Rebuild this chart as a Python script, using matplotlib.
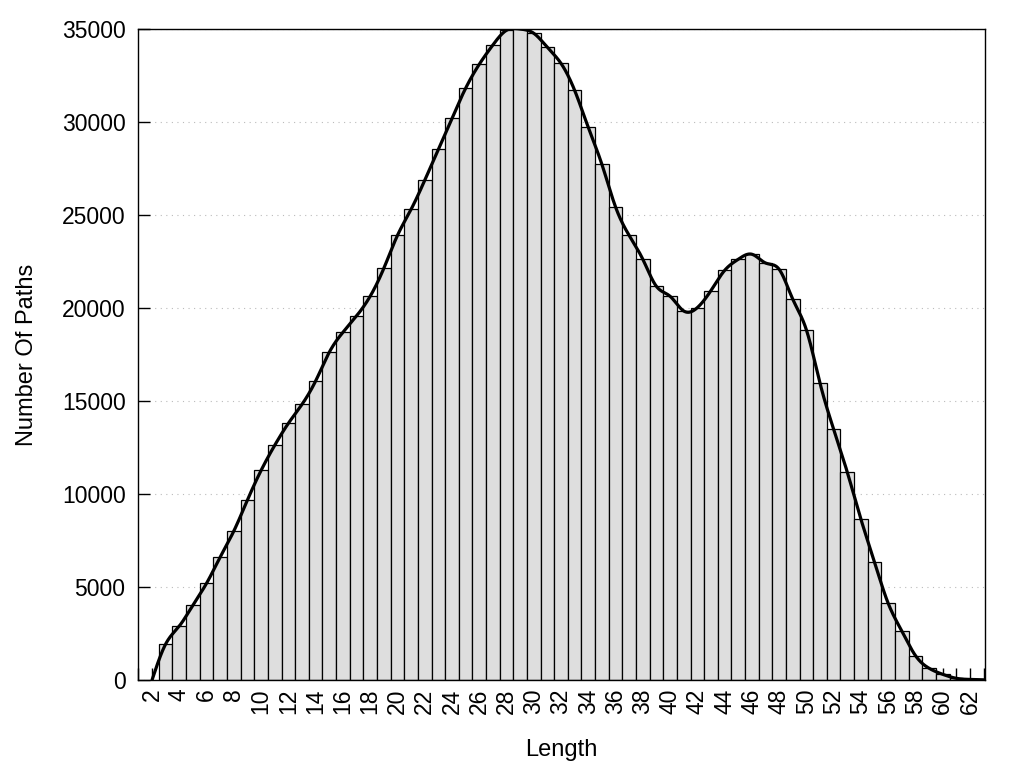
import numpy as np
import matplotlib
matplotlib.use("Agg")
import matplotlib.pyplot as plt
from matplotlib.ticker import MultipleLocator

plt.rcParams['font.family'] = ['Liberation Sans', 'DejaVu Sans']

lengths = list(range(2, 64))
counts = [0, 1935, 2900, 4030, 5200, 6610, 8010, 9680, 11270, 12620,
          13800, 14820, 16075, 17620, 18690, 19570, 20630, 22130, 23900, 25300,
          26860, 28530, 30200, 31810, 33100, 34140, 34930, 35000, 34770, 34010,
          33150, 31700, 29710, 27720, 25430, 23900, 22620, 21160, 20630, 19840,
          20020, 20940, 22020, 22620, 22890, 22420, 22080, 20470, 18820, 15950,
          13480, 11170, 8640, 6330, 4120, 2630, 1310, 630, 305, 90,
          30, 10]
xtick_labels = [str(v) for v in range(2, 63, 2)]
ytick_values = list(range(0, 35001, 5000))


def natural_cubic_spline(x, y, xs):
    x = np.asarray(x, float)
    y = np.asarray(y, float)
    n = len(x)
    h = np.diff(x)
    A = np.zeros((n, n))
    b = np.zeros(n)
    A[0, 0] = 1
    A[-1, -1] = 1
    for i in range(1, n - 1):
        A[i, i - 1] = h[i - 1]
        A[i, i] = 2 * (h[i - 1] + h[i])
        A[i, i + 1] = h[i]
        b[i] = 3 * ((y[i + 1] - y[i]) / h[i] - (y[i] - y[i - 1]) / h[i - 1])
    c = np.linalg.solve(A, b)
    out = np.empty_like(xs)
    idx = np.clip(np.searchsorted(x, xs) - 1, 0, n - 2)
    for k, (xv, i) in enumerate(zip(xs, idx)):
        bi = (y[i + 1] - y[i]) / h[i] - h[i] * (2 * c[i] + c[i + 1]) / 3
        di = (c[i + 1] - c[i]) / (3 * h[i])
        dx = xv - x[i]
        out[k] = y[i] + bi * dx + c[i] * dx ** 2 + di * dx ** 3
    return out


fig = plt.figure(figsize=(10.24, 7.68), dpi=100)
ax = fig.add_axes([138 / 1024, 1 - 680 / 768, (985 - 138) / 1024, (680 - 29) / 768])

ax.set_axisbelow(True)
ax.bar(lengths[1:], counts[1:], width=1.0, color='#dedede', edgecolor='black',
       linewidth=0.9, zorder=1)

xs = np.linspace(lengths[0], lengths[-1], 1500)
ys = natural_cubic_spline(lengths, counts, xs)
ax.plot(xs, ys, color='black', linewidth=2.3, zorder=3, solid_capstyle='round')

ax.set_xlim(0.97, 63.1)
ax.set_ylim(0, 35000)

ax.set_xticks(list(range(2, 63, 2)))
ax.set_xticklabels(xtick_labels, rotation=90, fontsize=16.5)
ax.xaxis.set_minor_locator(MultipleLocator(1))
ax.set_yticks(ytick_values)
ax.set_yticklabels([str(v) for v in ytick_values], fontsize=16.5)

ax.tick_params(axis='both', which='both', direction='in', length=8.6, width=1.0,
               top=False, right=False)
ax.tick_params(axis='x', which='major', pad=6)
ax.tick_params(axis='y', which='major', pad=9)

ax.yaxis.grid(True, linestyle=(0, (1, 4)), color='#bbbbbb', linewidth=0.8)

for s in ax.spines.values():
    s.set_linewidth(1.0)
    s.set_zorder(4)

ax.set_xlabel('Length', fontsize=17, labelpad=18)
ax.set_ylabel('Number Of Paths', fontsize=17, labelpad=17)

fig.savefig('out.png', dpi=100)
